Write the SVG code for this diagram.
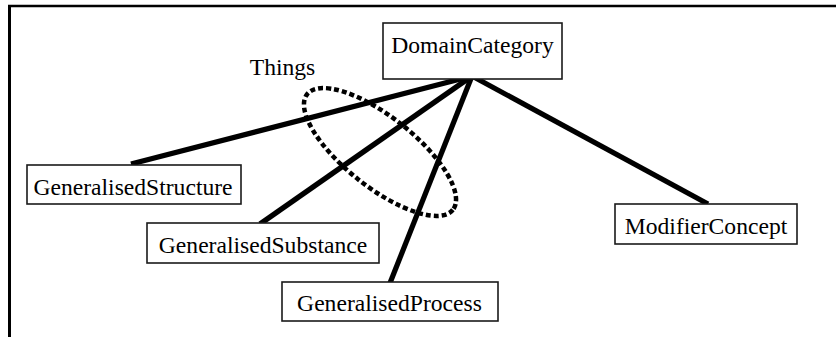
<svg xmlns="http://www.w3.org/2000/svg" width="836" height="337" viewBox="0 0 836 337">
<style>
.box{fill:#fff;stroke:#1a1a1a;stroke-width:1.6}
.lbl{font-family:"Liberation Serif","Times New Roman",serif;font-size:23.6px;fill:#000;text-anchor:middle}
.conn{stroke:#000;stroke-width:5.2;stroke-linecap:butt;fill:none}
</style>
<rect width="836" height="337" fill="#fff"/>
<g id="frame">
<line x1="8" y1="6" x2="836" y2="6" stroke="#000" stroke-width="2.6"/>
<line x1="9.5" y1="5" x2="9.5" y2="337" stroke="#000" stroke-width="3"/>
</g>
<g id="connectors">
<line class="conn" x1="472" y1="76" x2="131" y2="164"/>
<line class="conn" x1="472" y1="76" x2="260" y2="224"/>
<line class="conn" x1="472" y1="76" x2="390" y2="283"/>
<line class="conn" x1="472" y1="76" x2="708" y2="204"/>
</g>
<g id="things">
<ellipse cx="380" cy="152" rx="93" ry="35" transform="rotate(38.4 380 152)" fill="none" stroke="#000" stroke-width="4.5" stroke-dasharray="5 3"/>
<text class="lbl" x="282.5" y="75">Things</text>
</g>
<g id="DomainCategory">
<rect class="box" x="383" y="23" width="179" height="56"/>
<text class="lbl" x="472.5" y="53">DomainCategory</text>
</g>
<g id="GeneralisedStructure">
<rect class="box" x="27" y="165" width="214" height="39"/>
<text class="lbl" x="133" y="195">GeneralisedStructure</text>
</g>
<g id="GeneralisedSubstance">
<rect class="box" x="147" y="223" width="232" height="40"/>
<text class="lbl" x="263" y="253">GeneralisedSubstance</text>
</g>
<g id="GeneralisedProcess">
<rect class="box" x="282" y="282" width="216" height="39"/>
<text class="lbl" x="389.5" y="311">GeneralisedProcess</text>
</g>
<g id="ModifierConcept">
<rect class="box" x="615" y="204" width="182" height="40"/>
<text class="lbl" x="706" y="234">ModifierConcept</text>
</g>
</svg>
